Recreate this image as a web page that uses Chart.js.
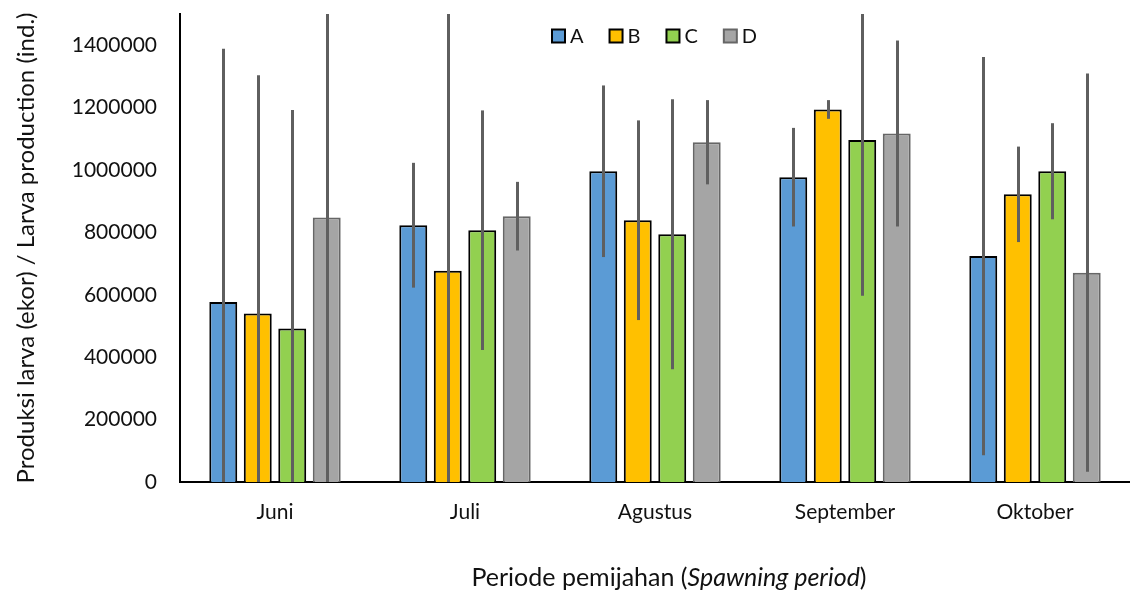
<!DOCTYPE html>
<html>
<head>
<meta charset="utf-8">
<script src="https://cdn.jsdelivr.net/npm/chart.js@4"></script>
<style>
  html, body { margin: 0; padding: 0; background: #fff; }
  canvas { display: block; }
</style>
</head>
<body>
<canvas id="chart" width="1130" height="592"></canvas>
<script>
// data
const categories = ['Juni', 'Juli', 'Agustus', 'September', 'Oktober'];
const seriesNames = ['A', 'B', 'C', 'D'];
const valuesA = [577000, 823000, 996000, 977000, 724000];
const valuesB = [540000, 677000, 839000, 1194000, 922000];
const valuesC = [492000, 807000, 794000, 1096000, 996000];
const valuesD = [848000, 852000, 1089000, 1117000, 671000];
// +/- error (standard deviation)
const errA = [812000, 200000, 275000, 158000, 638000];
const errB = [764000, 850000, 320000, 30000, 153000];
const errC = [700000, 384000, 433000, 499000, 154000];
const errD = [900000, 110000, 135000, 298000, 638000];
const yTicks = [0, 200000, 400000, 600000, 800000, 1000000, 1200000, 1400000];
const yMax = 1500000;

const FONT = 'Lato, "Open Sans", sans-serif';
const errors = [errA, errB, errC, errD];

// error bars, drawn through the y scale and clipped to the plot
const errorBars = {
  id: 'errorBars',
  afterDatasetsDraw(chart) {
    const ctx = chart.ctx;
    const area = chart.chartArea;
    const y = chart.scales.y;
    ctx.save();
    ctx.beginPath();
    ctx.rect(area.left, area.top, area.right - area.left, area.bottom - area.top);
    ctx.clip();
    ctx.strokeStyle = '#5f5f5f';
    ctx.lineWidth = 3;
    chart.data.datasets.forEach((ds, i) => {
      const meta = chart.getDatasetMeta(i);
      meta.data.forEach((bar, j) => {
        const v = ds.data[j];
        const e = errors[i][j];
        const top = y.getPixelForValue(v + e);
        const bot = y.getPixelForValue(Math.max(v - e, 0));
        ctx.beginPath();
        ctx.moveTo(Math.round(bar.x) + 0.5, top);
        ctx.lineTo(Math.round(bar.x) + 0.5, bot);
        ctx.stroke();
      });
    });
    ctx.restore();
  }
};

// legend in one row inside the plot, like the Excel one
const rowLegend = {
  id: 'rowLegend',
  afterDraw(chart) {
    const ctx = chart.ctx;
    ctx.save();
    ctx.font = '20px ' + FONT;
    ctx.textBaseline = 'middle';
    let x = 552;
    const cy = 36;
    chart.data.datasets.forEach(ds => {
      ctx.fillStyle = ds.backgroundColor;
      ctx.fillRect(x, cy - 6.5, 13, 13);
      ctx.strokeStyle = ds.borderColor;
      ctx.lineWidth = 2;
      ctx.strokeRect(x, cy - 6.5, 13, 13);
      ctx.fillStyle = '#111';
      ctx.fillText(ds.label, x + 18, cy + 1);
      x += 18 + ctx.measureText(ds.label).width + 26;
    });
    ctx.restore();
  }
};

// x axis title with an italic part
const xTitle = {
  id: 'xTitle',
  afterDraw(chart) {
    const ctx = chart.ctx;
    const parts = [
      ['Periode pemijahan (', 'normal'],
      ['Spawning period', 'italic'],
      [')', 'normal']
    ];
    ctx.save();
    ctx.fillStyle = '#111';
    ctx.textBaseline = 'alphabetic';
    let total = 0;
    parts.forEach(p => {
      ctx.font = p[1] + ' 25px ' + FONT;
      total += ctx.measureText(p[0]).width;
    });
    let x = 669 - total / 2;
    parts.forEach(p => {
      ctx.font = p[1] + ' 25px ' + FONT;
      ctx.fillText(p[0], x, 586);
      x += ctx.measureText(p[0]).width;
    });
    ctx.restore();
  }
};

new Chart(document.getElementById('chart'), {
  type: 'bar',
  data: {
    labels: categories,
    datasets: [
      { label: seriesNames[0], data: valuesA, backgroundColor: '#5b9bd5', borderColor: '#000', borderWidth: 2 },
      { label: seriesNames[1], data: valuesB, backgroundColor: '#ffc000', borderColor: '#000', borderWidth: 2 },
      { label: seriesNames[2], data: valuesC, backgroundColor: '#92d050', borderColor: '#000', borderWidth: 2 },
      { label: seriesNames[3], data: valuesD, backgroundColor: '#a5a5a5', borderColor: '#666', borderWidth: 2 }
    ]
  },
  options: {
    responsive: false,
    animation: false,
    devicePixelRatio: 1,
    layout: { padding: { top: 14, left: 0, right: 0, bottom: 0 } },
    datasets: { bar: { categoryPercentage: 0.726, barPercentage: 0.81 } },
    plugins: {
      legend: { display: false },
      tooltip: { enabled: false }
    },
    scales: {
      x: {
        grid: { display: false },
        border: { display: true, color: '#000', width: 2 },
        ticks: { color: '#111', padding: 10, maxRotation: 0, font: { family: FONT, size: 21 } },
        afterFit(s) { s.height = 110; s.paddingLeft = 0; s.paddingRight = 0; }
      },
      y: {
        min: 0,
        max: yMax,
        grid: { display: false },
        border: { display: true, color: '#000', width: 2 },
        afterBuildTicks(s) { s.ticks = yTicks.map(v => ({ value: v })); },
        ticks: {
          color: '#111',
          padding: 15,
          font: { family: FONT, size: 21 },
          callback: v => String(v)
        },
        title: {
          display: true,
          text: 'Produksi larva (ekor) / Larva production (ind.)',
          color: '#111',
          font: { family: FONT, size: 24 },
          padding: { top: 12, bottom: 0 }
        },
        afterFit(s) { s.width = 180; s.paddingTop = 0; s.paddingBottom = 0; }
      }
    }
  },
  plugins: [errorBars, rowLegend, xTitle]
});
</script>
</body>
</html>
